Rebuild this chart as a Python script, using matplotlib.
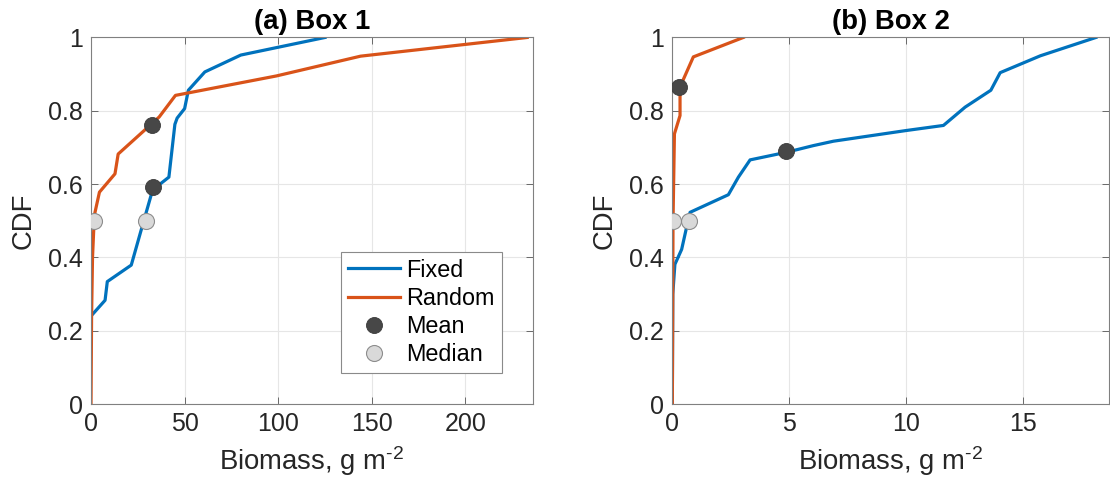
import numpy as np
import matplotlib
matplotlib.use('Agg')
import matplotlib.pyplot as plt
from matplotlib.ticker import FuncFormatter

# Box 1 CDF curves
box1_fixed_x = [0, 7.5, 8.7, 21.5, 26.7, 32.9, 41.6, 44.8, 46, 50, 52, 60.8, 80, 125]
box1_fixed_y = [0.24, 0.283, 0.334, 0.379, 0.473, 0.584, 0.619, 0.763, 0.78, 0.806, 0.856, 0.906, 0.952, 1.0]
box1_random_x = [0, 0.3, 0.8, 1.4, 2.0, 4.5, 12.8, 14.5, 36.4, 45.1, 99, 144, 233]
box1_random_y = [0, 0.24, 0.40, 0.47, 0.52, 0.578, 0.628, 0.682, 0.783, 0.842, 0.895, 0.949, 1.0]
box1_mean_x = [33.3, 32.6]
box1_mean_y = [0.592, 0.762]
box1_median_x = [29.4, 1.4]
box1_median_y = [0.5, 0.5]

# Box 2 CDF curves
box2_fixed_x = [0, 0.02, 0.11, 0.4, 0.61, 0.76, 2.4, 2.83, 3.33, 4.9, 6.04, 6.9, 10, 11.61, 12.54, 13.64,
                14.04, 15.76, 18.14]
box2_fixed_y = [0, 0.3, 0.381, 0.422, 0.482, 0.523, 0.571, 0.619, 0.666, 0.687, 0.705, 0.717, 0.746, 0.76,
                0.81, 0.856, 0.904, 0.95, 1.0]
box2_random_x = [0, 0.03, 0.09, 0.33, 0.33, 0.9, 3.04]
box2_random_y = [0, 0.5, 0.737, 0.787, 0.865, 0.947, 1.0]
box2_mean_x = [4.88, 0.3]
box2_mean_y = [0.689, 0.866]
box2_median_x = [0.73, 0.04]
box2_median_y = [0.5, 0.5]

plt.rcParams['font.family'] = ['Liberation Sans', 'DejaVu Sans']
plt.rcParams['mathtext.fontset'] = 'custom'
plt.rcParams['mathtext.rm'] = 'Liberation Sans'
plt.rcParams['mathtext.it'] = 'Liberation Sans'

blue = '#0072BD'
orange = '#D95319'
text_color = '#262626'

fig = plt.figure(figsize=(11.1, 4.93), dpi=100)
ax1 = fig.add_axes([0.082, 0.1805, 0.398, 0.7435])
ax2 = fig.add_axes([0.6057, 0.1805, 0.3934, 0.7435])


def style_axis(ax, xmax, xticks, title):
    ax.set_xlim(0, xmax)
    ax.set_ylim(0, 1)
    ax.set_xticks(xticks)
    ax.set_yticks([0, 0.2, 0.4, 0.6, 0.8, 1])
    ax.yaxis.set_major_formatter(FuncFormatter(lambda v, p: f'{v:g}'))
    ax.grid(True, color='#e6e6e6', linewidth=0.8)
    ax.set_axisbelow(True)
    ax.tick_params(direction='in', top=True, right=True, length=5, width=0.6, color='#555555',
                   labelsize=18, labelcolor=text_color, pad=6)
    for s in ax.spines.values():
        s.set_color('#808080')
        s.set_linewidth(0.8)
    # hyphen (U+2010) keeps the short dash of the original superscript
    ax.set_xlabel('Biomass, g m$^{\u2010 2}$', fontsize=19.8, color=text_color, labelpad=6)
    ax.set_ylabel('CDF', fontsize=19.8, color=text_color, labelpad=8)
    ax.set_title(title, fontsize=19.8, fontweight='bold', color='black', pad=6)


def draw_box(ax, fx, fy, rx, ry, mx, my, dx, dy):
    ax.plot(fx, fy, color=blue, linewidth=2.3, label='Fixed', solid_joinstyle='round')
    ax.plot(rx, ry, color=orange, linewidth=2.3, label='Random', solid_joinstyle='round')
    ax.plot(mx, my, 'o', markersize=11.5, markerfacecolor='#474747', markeredgecolor='#3a3a3a',
            markeredgewidth=0.6, linestyle='none', label='Mean', zorder=5)
    ax.plot(dx, dy, 'o', markersize=11.5, markerfacecolor='#d9d9d9', markeredgecolor='#8c8c8c',
            markeredgewidth=0.8, linestyle='none', label='Median', zorder=5)


draw_box(ax1, box1_fixed_x, box1_fixed_y, box1_random_x, box1_random_y,
         box1_mean_x, box1_mean_y, box1_median_x, box1_median_y)
draw_box(ax2, box2_fixed_x, box2_fixed_y, box2_random_x, box2_random_y,
         box2_mean_x, box2_mean_y, box2_median_x, box2_median_y)

style_axis(ax1, 236, [0, 50, 100, 150, 200], '(a) Box 1')
style_axis(ax2, 18.7, [0, 5, 10, 15], '(b) Box 2')

leg = ax1.legend(loc='lower right', bbox_to_anchor=(0.930, 0.0846), fontsize=16.8, frameon=True,
                 fancybox=False, framealpha=1, edgecolor='#8a8a8a', handlelength=2.2,
                 labelspacing=0.22, handletextpad=0.3, borderpad=0.3, borderaxespad=0)
leg.get_frame().set_linewidth(0.8)
for t in leg.get_texts():
    t.set_color('black')

plt.savefig('out.png', dpi=100)
